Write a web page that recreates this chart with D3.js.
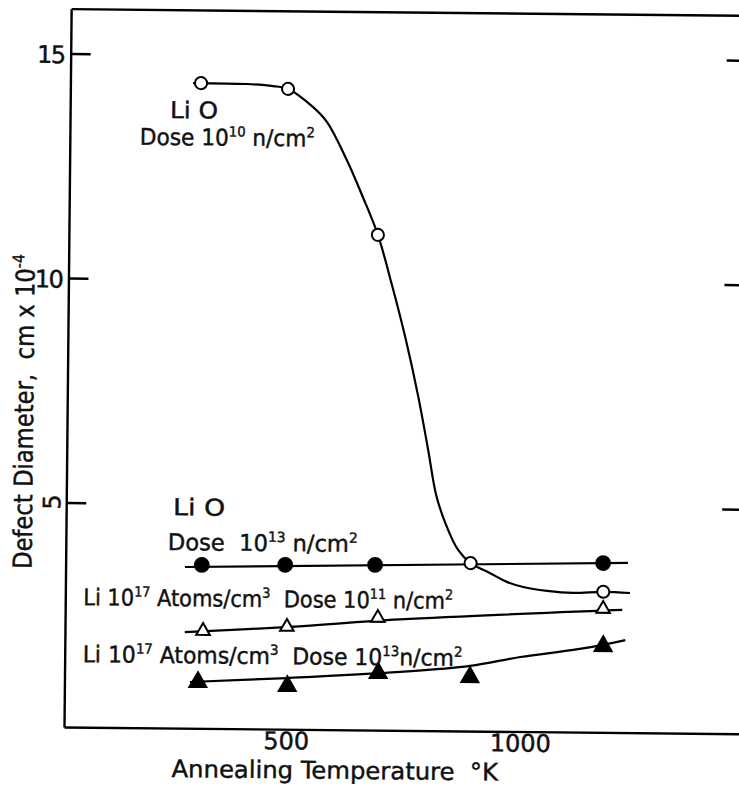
<!DOCTYPE html>
<html>
<head>
<meta charset="utf-8">
<script src="https://cdn.jsdelivr.net/npm/d3@7"></script>
<style>
  html, body { margin: 0; padding: 0; background: #fff; }
  svg { display: block; }
  text { font-family: "DejaVu Sans", sans-serif; fill: #111; stroke: #111; stroke-width: 0.45px; white-space: pre; }
</style>
</head>
<body>
<svg id="grafico" width="739" height="798"></svg>
<script>
const xTicks = [500, 1000];
const yTicks = [5, 10, 15];

// Li O, dose 1e10 n/cm2 (open circles)
const tLiO10 = [305, 491, 686, 891, 1175];
const dLiO10 = [14.37, 14.26, 11.03, 3.74, 3.13];
// hand drawn curve
const curveTLiO10 = [288, 403, 459, 491, 545, 575, 618, 653, 686, 717, 748, 775, 798, 816, 838, 864, 891, 933, 969, 1004, 1055, 1110, 1175, 1232];
const curveDLiO10 = [14.37, 14.36, 14.32, 14.26, 13.86, 13.53, 12.69, 11.87, 11.03, 9.92, 8.70, 7.47, 6.25, 5.25, 4.58, 4.03, 3.74, 3.52, 3.33, 3.22, 3.14, 3.10, 3.13, 3.11];

// Li O, dose 1e13 (filled circles)
const tLiO13 = [317, 495, 687, 1174];
const dLiO13 = [3.64, 3.66, 3.68, 3.77];
const curveTLiO13 = [281, 1227];
const curveDLiO13 = [3.59, 3.78];

// Li 1e17, dose 1e11 (open triangles)
const tLi17a = [321, 500, 694, 1175];
const dLi17a = [2.17, 2.28, 2.50, 2.75];
const curveTLi17a = [282, 507, 741, 1216];
const curveDLi17a = [2.14, 2.28, 2.47, 2.73];

// Li 1e17, dose 1e13 (filled triangles)
const tLi17b = [311, 502, 696, 892, 1176];
const dLi17b = [1.03, 0.96, 1.27, 1.20, 1.92];
const curveTLi17b = [294, 501, 743, 892, 999, 1112, 1176, 1223];
const curveDLi17b = [1.03, 1.14, 1.30, 1.45, 1.66, 1.83, 1.95, 2.06];

// labels: [text, superscript?]
const txtLiO = [["Li O"]];
const txtDose10 = [["Dose 10"], ["10", 1], [" n/cm"], ["2", 1]];
const txtDose13 = [["Dose  10"], ["13", 1], [" n/cm"], ["2", 1]];
const txtLi17a = [["Li 10"], ["17", 1], [" Atoms/cm"], ["3", 1], ["  Dose 10"], ["11", 1], [" n/cm"], ["2", 1]];
const txtLi17b = [["Li 10"], ["17", 1], [" Atoms/cm"], ["3", 1], ["  Dose 10"], ["13", 1], ["n/cm"], ["2", 1]];
const txtX = [["Annealing Temperature  °K"]];
const txtY = [["Defect Diameter,  cm x 10"], ["-4", 1]];

const svg = d3.select("#grafico");
// the scanned figure sits slightly rotated on the page
const g = svg.append("g").attr("transform", "rotate(0.57, 64, 727)");

const x = d3.scaleLinear().domain([26, 1470]).range([64, 740]);
const y = d3.scaleLinear().domain([0, 16]).range([727, 8.6]);

const topAxis = g.append("g").attr("transform", `translate(0,${y(16)})`)
  .call(d3.axisTop(x).tickValues([]).tickSizeOuter(0));

const xAxis = g.append("g").attr("transform", `translate(0,${y(0)})`)
  .call(d3.axisBottom(x).tickValues(xTicks).tickSize(0).tickPadding(3).tickFormat(d3.format("d")));

const yAxis = g.append("g").attr("transform", `translate(${x(26)},0)`)
  .call(d3.axisLeft(y).tickValues(yTicks).tickSizeInner(-20).tickSizeOuter(0).tickPadding(6));

const yRight = g.append("g").attr("transform", `translate(${x(1470)},0)`)
  .call(d3.axisRight(y).tickValues(yTicks).tickSizeInner(-20).tickSizeOuter(0).tickFormat(""));
yRight.select(".domain").remove();

[topAxis, xAxis, yAxis, yRight].forEach(a => {
  a.attr("font-size", 24).attr("font-family", null);
  a.selectAll(".domain, line").attr("stroke", "#000").attr("stroke-width", 2.4);
  a.selectAll("text").attr("fill", "#111");
});
yAxis.selectAll(".tick text").attr("dy", "0.38em").attr("letter-spacing", -1.5);
yAxis.selectAll(".tick text").filter(d => d === 5)
  .attr("transform", "rotate(-90)")
  .attr("x", 0).attr("y", -6).attr("dy", 0)
  .attr("text-anchor", "middle");

// curves
const line = d3.line().x(d => x(d[0])).y(d => y(d[1])).curve(d3.curveCatmullRom.alpha(0.5));
[[curveTLiO10, curveDLiO10], [curveTLiO13, curveDLiO13], [curveTLi17a, curveDLi17a], [curveTLi17b, curveDLi17b]]
  .forEach(([t, d]) => {
    g.append("path")
      .attr("d", line(d3.zip(t, d)))
      .attr("fill", "none")
      .attr("stroke", "#000")
      .attr("stroke-width", 2.2);
  });

// markers
const series = [
  { t: tLiO13, d: dLiO13, type: d3.symbolCircle, size: 150, fill: "#000" },
  { t: tLi17a, d: dLi17a, type: d3.symbolTriangle, size: 80, fill: "#fff" },
  { t: tLi17b, d: dLi17b, type: d3.symbolTriangle, size: 125, fill: "#000" },
  { t: tLiO10, d: dLiO10, type: d3.symbolCircle, size: 115, fill: "#fff" }
];
series.forEach(s => {
  g.append("g").selectAll("path")
    .data(d3.zip(s.t, s.d))
    .join("path")
    .attr("transform", d => `translate(${x(d[0])},${y(d[1])})`)
    .attr("d", d3.symbol().type(s.type).size(s.size))
    .attr("fill", s.fill)
    .attr("stroke", "#000")
    .attr("stroke-width", 2);
});

// text with superscripts, stretched to the width it has in the figure
function label(segs, px, py, width, size, rotated) {
  const gl = g.append("g");
  const t = gl.append("text").attr("font-size", size)
    .attr("text-anchor", rotated ? "middle" : "start");
  let up = false;
  segs.forEach(([s, sup]) => {
    const ts = t.append("tspan").text(s);
    if (sup) {
      ts.attr("font-size", Math.round(size * 0.62));
      if (!up) ts.attr("dy", -size * 0.4);
    } else if (up) {
      ts.attr("dy", size * 0.4);
    }
    up = !!sup;
  });
  const w = t.node().getBBox().width;
  const sx = width / w;
  gl.attr("transform", `translate(${px},${py})` + (rotated ? " rotate(-90)" : "") + ` scale(${sx},1)`);
}

label(txtLiO, 164, 117, 48, 23);
label(txtDose10, 134, 144, 175, 23);
label(txtLiO, 171, 514, 52, 23);
label(txtDose13, 166, 549, 190, 23);
label(txtLi17a, 82, 605, 370, 23);
label(txtLi17b, 82, 662, 380, 23);
label(txtX, 172, 776, 328, 24);
label(txtY, 30, 412, 315, 26, true);
</script>
</body>
</html>
